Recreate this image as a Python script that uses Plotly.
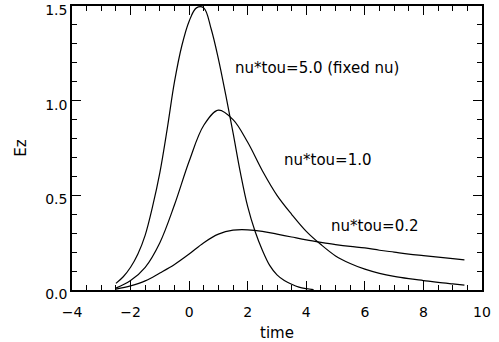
import plotly.graph_objects as go

# nu*tau = 5.0 (fixed nu)
t_50 = [-2.5, -2.25, -2.0, -1.75, -1.5, -1.25, -1.0, -0.75, -0.5, -0.25, 0.0, 0.25, 0.5, 0.75,
        1.0, 1.25, 1.5, 1.75, 2.0, 2.25, 2.5, 2.75, 3.0, 3.25, 3.5, 3.75, 4.0, 4.25]
ez_50 = [0.035, 0.07, 0.12, 0.19, 0.29, 0.44, 0.62, 0.85, 1.10, 1.29, 1.42, 1.49, 1.49, 1.38,
         1.22, 1.03, 0.83, 0.62, 0.44, 0.31, 0.21, 0.13, 0.08, 0.05, 0.03, 0.015, 0.007, 0.002]

# nu*tau = 1.0
t_10 = [-2.5, -2.0, -1.5, -1.0, -0.5, 0.0, 0.5, 1.0, 1.5, 2.0, 2.5, 3.0, 3.5, 4.0, 4.5, 5.0,
        5.5, 6.0, 6.5, 7.0, 7.5, 8.0, 8.5, 9.0, 9.4]
ez_10 = [0.01, 0.05, 0.12, 0.25, 0.45, 0.68, 0.87, 0.95, 0.90, 0.78, 0.63, 0.50, 0.40, 0.31, 0.24, 0.18,
         0.14, 0.11, 0.088, 0.072, 0.06, 0.05, 0.04, 0.032, 0.026]

# nu*tau = 0.2
t_02 = [-2.5, -2.0, -1.5, -1.0, -0.5, 0.0, 0.5, 1.0, 1.5, 2.0, 2.5, 3.0, 3.5, 4.0, 4.5, 5.0,
        5.5, 6.0, 6.5, 7.0, 7.5, 8.0, 8.5, 9.0, 9.4]
ez_02 = [0.005, 0.022, 0.048, 0.09, 0.135, 0.19, 0.25, 0.295, 0.316, 0.318, 0.31, 0.295, 0.28, 0.265, 0.252, 0.24,
         0.23, 0.222, 0.21, 0.20, 0.19, 0.182, 0.174, 0.166, 0.159]

labels = ["nu*tou=5.0 (fixed nu)", "nu*tou=1.0", "nu*tou=0.2"]
label_x = [1.49, 3.17, 4.77]
label_y = [1.175, 0.685, 0.336]

x_ticks = [-4, -2, 0, 2, 4, 6, 8, 10]
y_ticks = [0.0, 0.5, 1.0, 1.5]

FONT = "DejaVu Sans"

fig = go.Figure()
for tx, ty in [(t_50, ez_50), (t_10, ez_10), (t_02, ez_02)]:
    fig.add_trace(go.Scatter(x=tx, y=ty, mode="lines",
                             line=dict(color="black", width=1.2, shape="spline", smoothing=1.0),
                             showlegend=False, hoverinfo="skip"))

for txt, lx, ly in zip(labels, label_x, label_y):
    fig.add_annotation(x=lx, y=ly, text=txt, showarrow=False, xanchor="left", yanchor="middle",
                       font=dict(family=FONT, size=15, color="black"))

axis_common = dict(showgrid=False, zeroline=False, showline=True, linecolor="black", linewidth=1.5,
                   ticks="inside", mirror="allticks", tickcolor="black", ticklen=9, tickwidth=1,
                   ticklabeloverflow="allow", automargin=False,
                   tickfont=dict(family=FONT, size=14, color="black"))

fig.update_xaxes(range=[-4, 10], tickvals=x_ticks, ticktext=[str(v).replace("-", "\u2212") for v in x_ticks],
                 minor=dict(ticks="inside", ticklen=5, dtick=0.5, tickcolor="black"),
                 ticklabelstandoff=8,
                 title=dict(text="time", font=dict(family=FONT, size=15, color="black"), standoff=9),
                 **axis_common)
fig.update_yaxes(range=[0, 1.5], tickvals=y_ticks, ticktext=[f"{v:.1f}" for v in y_ticks],
                 minor=dict(ticks="inside", ticklen=5, dtick=0.1, tickcolor="black"),
                 ticklabelshift=4,
                 title=dict(text="Ez", font=dict(family=FONT, size=15, color="black"), standoff=15),
                 **axis_common)

fig.update_layout(width=499, height=342, margin=dict(l=72, r=17, t=6, b=52),
                  plot_bgcolor="white", paper_bgcolor="white")

fig.write_html("out.html", config={"displayModeBar": False},
               post_script="document.body.style.margin='0';")
